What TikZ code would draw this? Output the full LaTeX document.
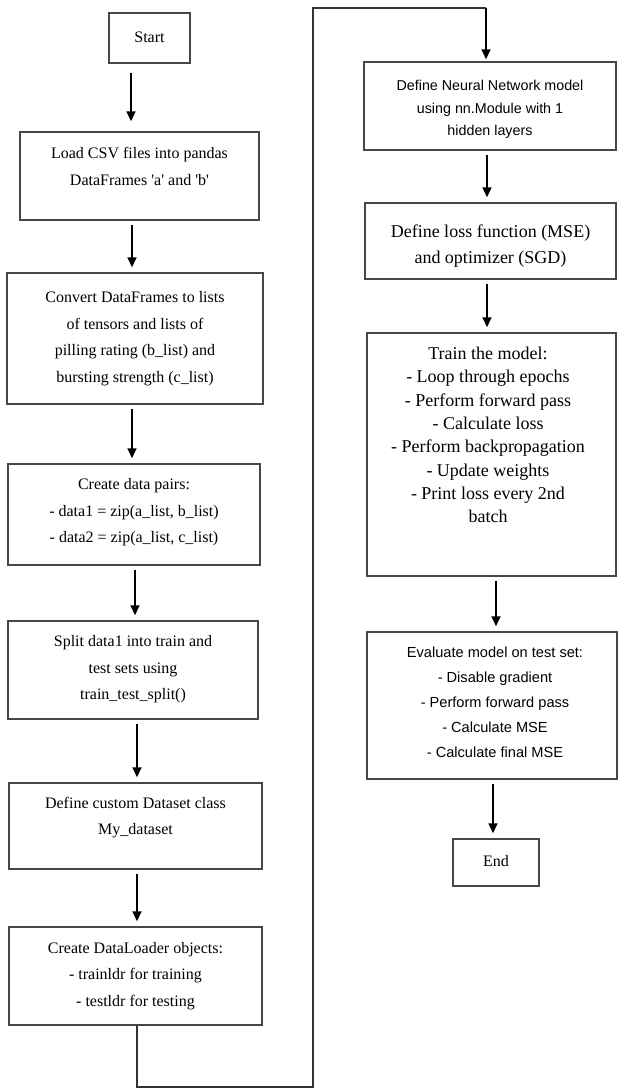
\documentclass[tikz,border=0pt]{standalone}
\usepackage{fontspec}
\setmainfont{Liberation Serif}
\newfontfamily\arialf{Liberation Sans}
\usetikzlibrary{arrows.meta}
\begin{document}
\begin{tikzpicture}[x=1pt,y=-1pt,
  box/.style={draw=black!72, line width=1.1pt, inner sep=0pt},
  lt/.style={font=\fontsize{16}{26.5}\selectfont, align=center, inner sep=0pt},
  rt/.style={font=\fontsize{18}{26.7}\selectfont, align=center, inner sep=0pt},
  trt/.style={font=\fontsize{18}{23.3}\selectfont, align=center, inner sep=0pt},
  arialtxt/.style={font=\arialf\fontsize{14.3}{22.5}\selectfont, align=center, inner sep=0pt},
  arialevt/.style={font=\arialf\fontsize{14.6}{25}\selectfont, align=center, inner sep=0pt},
  arr/.style={line width=2.6pt, -{Triangle[length=10pt,width=8.5pt]}, shorten <=4pt, shorten >=5pt},
  loopl/.style={draw=black!80, line width=1.2pt}
]
\useasboundingbox (0,0) rectangle (619,1089);
\fill[white] (0,0) rectangle (619,1089);

% left column boxes
\node[box, minimum width=81, minimum height=50] (start) at (149.5,38) {};
\node[lt] (startT) at (149.5,37) {Start};

\node[box, minimum width=239, minimum height=88] (load) at (139.5,176) {};
\node[lt] (loadT) at (139.5,166.5) {Load CSV files into pandas\\DataFrames \textquotesingle a\textquotesingle{} and \textquotesingle b\textquotesingle};

\node[box, minimum width=256, minimum height=131] (convert) at (135,338.5) {};
\node[lt] (convertT) at (135,338.5) {Convert DataFrames to lists\\of tensors and lists of\\pilling rating (b\_list) and\\bursting strength (c\_list)};

\node[box, minimum width=252, minimum height=101] (pairs) at (134,514.5) {};
\node[lt] (pairsT) at (134,512.5) {Create data pairs:\\- data1 = zip(a\_list, b\_list)\\- data2 = zip(a\_list, c\_list)};

\node[box, minimum width=250, minimum height=98] (split) at (133,670) {};
\node[lt] (splitT) at (133,669.5) {Split data1 into train and\\test sets using\\train\_test\_split()};

\node[box, minimum width=253, minimum height=86] (custom) at (135.5,826) {};
\node[lt] (customT) at (135.5,817.5) {Define custom Dataset class\\My\_dataset};

\node[box, minimum width=253, minimum height=98] (loader) at (135.5,976) {};
\node[lt] (loaderT) at (135.5,976) {Create DataLoader objects:\\- trainldr for training\\- testldr for testing};

% right column boxes
\node[box, minimum width=252, minimum height=88] (nn) at (490,106) {};
\node[arialtxt] (nnT) at (490,109.5) {Define Neural Network model\\using nn.Module with 1\\hidden layers};

\node[box, minimum width=251, minimum height=76] (loss) at (490.5,241) {};
\node[rt] (lossT) at (490.5,246) {Define loss function (MSE)\\and optimizer (SGD)};

\node[box, minimum width=249, minimum height=243] (train) at (491.5,454.5) {};
\node[trt] (trainT) at (488,435) {Train the model:\\- Loop through epochs\\- Perform forward pass\\- Calculate loss\\- Perform backpropagation\\- Update weights\\- Print loss every 2nd\\batch};

\node[box, minimum width=250, minimum height=147] (eval) at (492,705.5) {};
\node[arialevt] (evalT) at (495,702) {Evaluate model on test set:\\- Disable gradient\\- Perform forward pass\\- Calculate MSE\\- Calculate final MSE};

\node[box, minimum width=86, minimum height=47] (end) at (496,862.5) {};
\node[lt] (endT) at (496,861) {End};

% arrow columns
\coordinate (c1) at (131,0);
\coordinate (c2) at (132,0);
\coordinate (c3) at (135,0);
\coordinate (c4) at (137,0);
\coordinate (c5) at (487,0);
\coordinate (c6) at (496,0);
\coordinate (c7) at (493,0);

\draw[arr, shorten <=9pt, shorten >=10pt] (start.south -| c1) -- (load.north -| c1);
\draw[arr] (load.south -| c2) -- (convert.north -| c2);
\draw[arr] (convert.south -| c2) -- (pairs.north -| c2);
\draw[arr] (pairs.south -| c3) -- (split.north -| c3);
\draw[arr] (split.south -| c4) -- (custom.north -| c4);
\draw[arr] (custom.south -| c4) -- (loader.north -| c4);

\draw[arr] (nn.south -| c5) -- (loss.north -| c5);
\draw[arr] (loss.south -| c5) -- (train.north -| c5);
\draw[arr] (train.south -| c6) -- (eval.north -| c6);
\draw[arr] (eval.south -| c7) -- (end.north -| c7);

% loop connector
\coordinate (lb) at (137,1087);
\coordinate (lr) at (313,1087);
\coordinate (ltop) at (313,8);
\coordinate (ltr) at (486,8);
\draw[loopl] (loader.south -| lb) -- (lb) -- (lr) -- (ltop) -- (ltr);
\draw[arr, shorten <=0pt, shorten >=2pt] (ltr) -- (nn.north -| ltr);
\end{tikzpicture}
\end{document}
